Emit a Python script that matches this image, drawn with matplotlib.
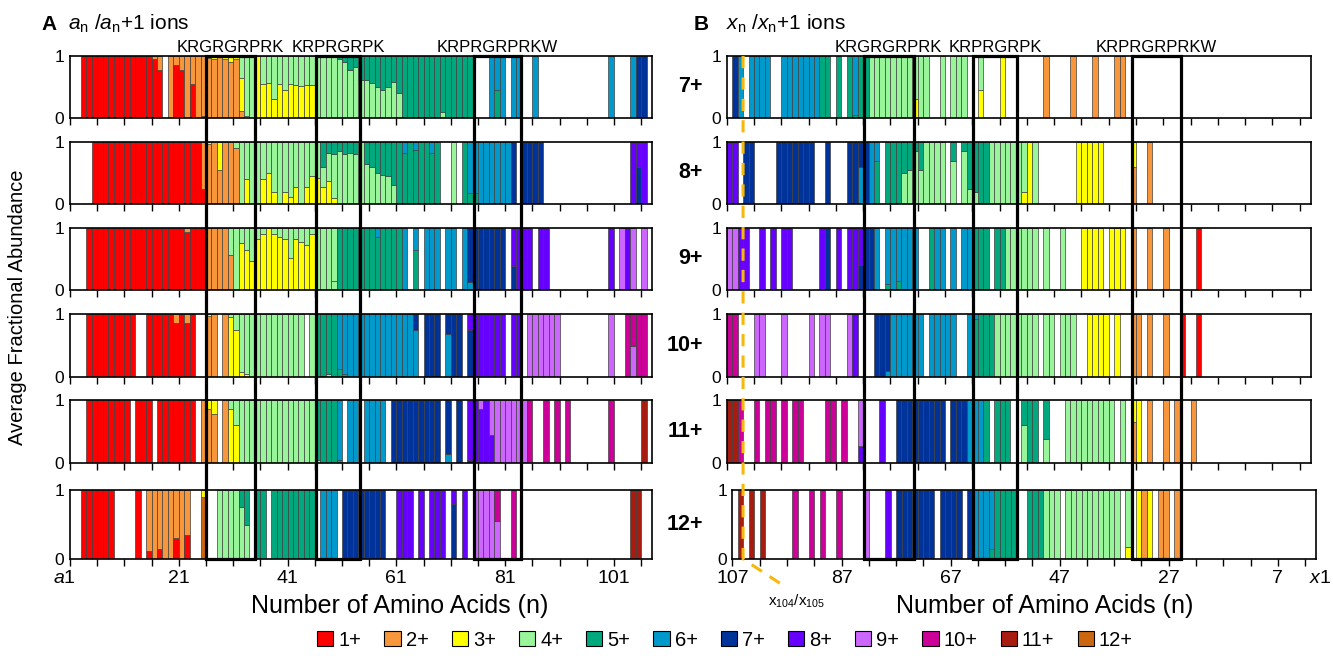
import matplotlib.pyplot as plt
from matplotlib.patches import Patch, Rectangle
from matplotlib.lines import Line2D

plt.rcParams['font.family'] = 'Liberation Sans'
plt.rcParams['mathtext.fontset'] = 'custom'
plt.rcParams['mathtext.rm'] = 'Liberation Sans'
plt.rcParams['mathtext.it'] = 'Liberation Sans:italic'
plt.rcParams['mathtext.bf'] = 'Liberation Sans:bold'

# charge states and their colours
charges = list(range(1, 13))
charge_colors = ['#FF0000', '#F7963B', '#FFFF00', '#99F599', '#00A87D', '#0099CC',
                 '#003399', '#6600FF', '#CC66FF', '#CC0099', '#A81C10', '#CC6611']
legend_labels = [f'{c}+' for c in charges]
precursors = ['7+', '8+', '9+', '10+', '11+', '12+']

# (first, last, top charge) runs; mix = {position: (lower charge, fraction)}
# panel A: a_n ions
runs_a7 = [(3, 15, 1), (16, 17, 2), (19, 25, 2), (26, 31, 3), (32, 34, 4), (35, 35, 3), (36, 49, 4),
           (50, 74, 5), (78, 80, 6), (82, 83, 6), (86, 86, 6), (100, 100, 6), (104, 104, 6), (105, 106, 7)]
mix_a7 = {16: (1, .95), 17: (1, .78), 20: (1, .85), 21: (1, .78), 23: (1, .55), 25: (1, .03),
          26: (2, .97), 27: (2, .95), 28: (2, 1), 29: (2, .95), 30: (2, .9), 31: (2, .95),
          32: [(2, .12), (3, .53)], 33: (3, .03), 36: (3, .55), 37: (3, .57), 38: (3, .3), 39: (3, .55),
          40: (3, .45), 41: (3, .55), 42: (3, .53), 43: (3, .52), 44: (3, .53), 45: (3, .53),
          50: (4, .95), 51: (4, .9), 52: (4, .78), 53: (4, .82), 54: (4, .62), 55: (4, .62), 56: (4, .57),
          57: (4, .5), 58: (4, .45), 59: (4, .5), 60: (4, .58), 61: (4, .4), 69: (4, .1), 79: (5, .45)}

runs_a8 = [(5, 24, 1), (25, 25, 2), (26, 26, 3), (27, 27, 2), (28, 28, 3), (29, 30, 2), (31, 46, 4),
           (47, 53, 5), (54, 54, 4), (55, 61, 5), (62, 62, 6), (63, 63, 5), (64, 64, 6), (65, 66, 5),
           (67, 67, 6), (68, 68, 5), (71, 71, 4), (73, 73, 5), (74, 81, 6), (82, 82, 7), (84, 87, 7),
           (104, 106, 8)]
mix_a8 = {25: (1, .25), 26: (2, .97), 28: (2, .55), 31: (2, .9), 33: (3, .4), 36: (3, .4), 37: (3, .5),
          38: (3, .2), 40: (3, .2), 41: (3, .12), 42: (3, .27), 44: (3, .27), 45: (3, .45), 46: (3, .42),
          47: [(3, .27), (4, .33)], 48: [(3, .37), (4, .45)], 49: [(3, .1), (4, .7)], 50: (4, .85),
          51: (4, .8), 52: (4, .82), 53: (4, .8), 55: (4, .65), 56: (4, .6), 57: (4, .5), 58: (4, .47),
          59: (4, .45), 60: (4, .3), 62: (5, .82), 64: (5, .87), 67: (5, .82), 74: (5, .18), 75: (5, .18),
          105: (7, .6)}

runs_a9 = [(4, 21, 1), (22, 22, 2), (23, 25, 1), (26, 29, 2), (30, 49, 4), (50, 56, 5), (57, 57, 6),
           (58, 61, 5), (62, 62, 6), (64, 64, 6), (66, 68, 6), (70, 71, 6), (73, 73, 6), (74, 80, 7),
           (82, 85, 8), (87, 88, 8), (100, 100, 8), (102, 102, 9), (103, 103, 8), (104, 104, 9),
           (106, 106, 9)]
mix_a9 = {22: (1, .93), 30: (2, .57), 32: (3, .75), 33: (3, .65), 34: (3, .47), 35: (3, .82), 36: (3, .9),
          37: (3, 1), 38: (3, .9), 39: (3, .85), 40: (3, .82), 41: (3, .52), 42: (3, .82), 43: (3, .77),
          44: (3, .72), 45: (3, .9), 49: (4, .15), 57: (5, .85), 64: (5, .65), 67: (5, .02), 74: (6, .13),
          82: (7, .38)}

runs_a10 = [(4, 12, 1), (15, 19, 1), (20, 20, 2), (21, 21, 1), (22, 22, 2), (23, 23, 1), (26, 26, 3),
            (27, 27, 2), (29, 29, 2), (30, 43, 4), (45, 45, 4), (46, 49, 5), (50, 63, 6), (64, 64, 7),
            (66, 68, 7), (70, 72, 7), (74, 80, 8), (82, 83, 8), (85, 90, 9), (100, 100, 9), (103, 106, 10)]
mix_a10 = {20: (1, .85), 22: (1, .85), 26: (2, .97), 30: (3, .95), 31: (3, .75), 32: (3, .08),
           33: (3, .05), 47: (4, .02), 48: (4, .05), 50: (5, .12), 51: (5, .05), 64: (6, .75),
           70: (6, .68), 74: (7, .75), 104: (9, .5)}

runs_a11 = [(4, 11, 1), (13, 15, 1), (17, 23, 1), (25, 25, 2), (26, 27, 3), (29, 29, 2), (30, 45, 4),
            (46, 49, 5), (50, 50, 6), (52, 53, 6), (55, 58, 6), (60, 68, 7), (70, 70, 7), (72, 72, 7),
            (74, 75, 8), (76, 76, 9), (77, 77, 8), (78, 84, 9), (85, 85, 10), (88, 88, 10), (90, 90, 10),
            (92, 92, 10), (100, 100, 10), (106, 106, 11)]
mix_a11 = {26: (2, .85), 27: (2, .78), 30: (3, .85), 31: (3, .6), 46: (4, .05), 50: (5, .05),
           70: (6, .15), 74: (7, .05), 76: (8, .85), 78: (8, .45)}

runs_a12 = [(3, 8, 1), (13, 13, 1), (15, 22, 2), (25, 25, 3), (28, 31, 4), (32, 33, 5), (35, 36, 5),
            (38, 45, 5), (47, 49, 6), (51, 58, 7), (61, 63, 8), (65, 65, 8), (67, 69, 8), (71, 71, 8),
            (73, 73, 8), (75, 78, 9), (79, 79, 10), (82, 82, 10), (104, 105, 11)]
mix_a12 = {15: (1, .12), 17: (1, .15), 20: (1, .3), 22: (1, .35), 25: (12, .9), 32: (4, .75),
           33: (4, .5), 71: (7, .8), 79: (9, .55)}

# panel B: x_n ions
runs_b7 = [(106, 106, 7), (105, 105, 6), (100, 103, 6), (91, 97, 6), (89, 90, 5), (87, 87, 5),
           (85, 85, 5), (84, 84, 6), (82, 83, 5), (71, 81, 4), (68, 68, 4), (64, 66, 4), (61, 61, 4),
           (57, 57, 3), (49, 49, 2), (44, 44, 2), (40, 40, 2), (35, 36, 2)]
mix_b7 = {84: (5, .05), 73: (3, .3), 61: (3, .45)}

runs_b8 = [(106, 107, 8), (103, 104, 7), (92, 98, 7), (89, 89, 7), (82, 85, 7), (80, 81, 6),
           (72, 78, 5), (68, 71, 4), (66, 66, 5), (60, 64, 5), (53, 59, 4), (52, 52, 3), (51, 51, 4),
           (39, 43, 3), (33, 33, 3), (30, 30, 2)]
mix_b8 = {83: (6, .6), 80: (5, .7), 75: (4, .5), 74: (4, .55), 73: (4, .85), 72: (4, .55), 66: (4, .7),
          64: (4, .85), 63: (4, .25), 62: (4, .2), 53: (3, .2), 33: (2, .6)}

runs_b9 = [(106, 107, 9), (104, 105, 8), (101, 101, 8), (99, 99, 8), (96, 97, 8), (90, 90, 8),
           (89, 89, 7), (87, 87, 8), (83, 85, 8), (81, 82, 7), (80, 80, 6), (73, 78, 6), (70, 70, 5),
           (68, 69, 6), (66, 66, 6), (63, 64, 6), (60, 62, 5), (57, 58, 5), (51, 56, 4), (49, 49, 4),
           (46, 46, 4), (39, 42, 3), (37, 37, 3), (35, 36, 3), (33, 33, 2), (30, 30, 2), (27, 27, 2),
           (21, 21, 1)]
mix_b9 = {83: (7, .4), 78: (5, .1), 76: (5, .15)}

runs_b10 = [(106, 107, 10), (101, 102, 9), (97, 97, 9), (92, 92, 9), (89, 90, 9), (85, 85, 9),
            (84, 84, 8), (78, 80, 7), (72, 77, 6), (68, 70, 6), (66, 67, 6), (63, 63, 6), (62, 62, 6),
            (59, 61, 5), (51, 58, 4), (48, 49, 4), (44, 46, 4), (38, 41, 3), (36, 36, 3), (32, 33, 2),
            (30, 30, 2), (27, 27, 2), (24, 24, 1), (21, 21, 1)]
mix_b10 = {78: (6, .1), 62: (5, .92)}

runs_b11 = [(106, 107, 11), (105, 105, 10), (102, 102, 10), (99, 100, 10), (97, 97, 10), (94, 95, 10),
            (88, 89, 10), (86, 86, 10), (83, 83, 9), (79, 79, 8), (68, 76, 7), (64, 66, 7), (61, 63, 6),
            (60, 60, 5), (56, 58, 5), (51, 53, 5), (49, 49, 5), (37, 45, 4), (35, 35, 4), (32, 33, 3),
            (30, 30, 2), (27, 27, 2), (25, 25, 2), (22, 22, 2)]
mix_b11 = {83: (8, .27), 53: (4, .6), 49: (4, .38), 33: (2, .65)}

runs_b12 = [(106, 106, 11), (104, 104, 11), (102, 102, 11), (96, 96, 10), (93, 93, 10), (91, 91, 10),
            (88, 88, 10), (83, 83, 9), (79, 79, 8), (71, 77, 7), (66, 69, 7), (64, 64, 7), (60, 63, 6),
            (56, 59, 5), (51, 53, 5), (48, 50, 4), (37, 46, 4), (35, 35, 4), (33, 33, 3), (32, 32, 2),
            (31, 31, 3), (29, 29, 2), (28, 28, 2), (26, 26, 2)]
mix_b12 = {60: (5, .15), 35: (3, .18)}

rows_a = [(runs_a7, mix_a7), (runs_a8, mix_a8), (runs_a9, mix_a9),
          (runs_a10, mix_a10), (runs_a11, mix_a11), (runs_a12, mix_a12)]
rows_b = [(runs_b7, mix_b7), (runs_b8, mix_b8), (runs_b9, mix_b9),
          (runs_b10, mix_b10), (runs_b11, mix_b11), (runs_b12, mix_b12)]

# sequence boxes (data x ranges) and their labels
boxes_a = [(26.0, 35.1), (46.2, 54.4), (75.2, 84.0)]
boxes_b = [(81.9, 72.7), (61.9, 53.8), (32.7, 23.8)]
box_seqs = ['KRGRGRPRK', 'KRPRGRPK', 'KRPRGRPRKW']

W, H = 1333, 659
fig = plt.figure(figsize=(W / 100, H / 100), dpi=100)
fig.patch.set_facecolor('white')


def px_rect(x0, x1, y0, y1):
    return [x0 / W, 1 - y1 / H, (x1 - x0) / W, (y1 - y0) / H]


def build_bars(runs, mix, panel):
    xs, bots, hts, cols = [], [], [], []
    for lo, hi, c in runs:
        for n in range(lo, hi + 1):
            parts = mix.get(n, [])
            if isinstance(parts, tuple):
                parts = [parts]
            used = sum(f for _, f in parts)
            parts = list(parts) + [(c, 1 - used)]
            x = n if panel == 'A' else n - 1
            b = 0
            for cc, f in parts:
                if f > 0.001:
                    xs.append(x)
                    bots.append(b)
                    hts.append(f)
                    cols.append(charge_colors[cc - 1])
                b += f
    return xs, bots, hts, cols


row_y = [(56, 118), (142, 204), (228, 290), (314, 377), (400, 463), (490, 559)]
xa = [(70, 652)] * 6
xb = [(726.7, 1310.6)] * 5 + [(732.5, 1316.0)]

axes_a, axes_b = [], []
for i in range(6):
    for panel, xr, rows, store in (('A', xa, rows_a, axes_a), ('B', xb, rows_b, axes_b)):
        ax = fig.add_axes(px_rect(xr[i][0], xr[i][1], row_y[i][0], row_y[i][1]))
        xs, bots, hts, cols = build_bars(rows[i][0], rows[i][1], panel)
        ax.bar(xs, hts, bottom=bots, width=1, align='edge', color=cols,
               edgecolor='#404040', linewidth=0.5)
        ax.set_ylim(0, 1)
        ax.set_yticks([0, 1])
        ax.set_yticklabels(['0', '1'], fontsize=12.5)
        ax.tick_params(axis='y', length=0, pad=4)
        if panel == 'A':
            ax.set_xlim(1, 108)
            ticks = list(range(1, 107, 5))
            labels = {21: '21', 41: '41', 61: '61', 81: '81', 101: '101'}
        else:
            ax.set_xlim(107, 0)
            ticks = list(range(107, 0, -5))
            labels = {107: '107', 87: '87', 67: '67', 47: '47', 27: '27', 7: '7'}
        ax.set_xticks(ticks)
        if i == 5:
            ax.set_xticklabels([labels.get(t, '') for t in ticks], fontsize=14)
        else:
            ax.set_xticklabels([])
        ax.tick_params(axis='x', direction='out', length=5, width=1, pad=3)
        for s in ax.spines.values():
            s.set_linewidth(1.2)
            s.set_color('black')
        store.append(ax)

# end labels with italic ion letters
axes_a[5].annotate('$\\mathit{a}$1', xy=(1, 0), xycoords=('data', 'axes fraction'), xytext=(4, -8),
                   textcoords='offset points', ha='right', va='top', fontsize=14)
axes_b[5].annotate('$\\mathit{x}$1', xy=(1, 0), xycoords=(fig.transFigure, 'axes fraction'),
                   xytext=(-1, -8), textcoords='offset points', ha='right', va='top', fontsize=14)

# precursor charge labels
for i, lab in enumerate(precursors):
    fig.text(703 / W, 1 - (row_y[i][0] + row_y[i][1]) / 2 / H, lab, ha='right', va='center',
             fontsize=15.5, fontweight='bold')

# boxes over the repeated sequences, spanning all rows
inv = fig.transFigure.inverted()
top_y = 1 - row_y[0][0] / H
bot_y = 1 - row_y[5][1] / H
for axes, boxes in ((axes_a, boxes_a), (axes_b, boxes_b)):
    ax0 = axes[0]
    for (x0, x1), seq in zip(boxes, box_seqs):
        fx0 = inv.transform(ax0.transData.transform((x0, 0)))[0]
        fx1 = inv.transform(ax0.transData.transform((x1, 0)))[0]
        fig.add_artist(Rectangle((fx0, bot_y), fx1 - fx0, top_y - bot_y, transform=fig.transFigure,
                                 fill=False, edgecolor='black', linewidth=2.3, zorder=20))
        fig.text((fx0 + fx1) / 2, 1 - 47 / H, seq, ha='center', va='center', fontsize=12)

# dashed marker between x104 and x105
fx = inv.transform(axes_b[0].transData.transform((104, 0)))[0]
fig.add_artist(Line2D([fx, fx, 784 / W], [top_y, bot_y, 1 - 586 / H], transform=fig.transFigure,
                      color='#F7B80C', linestyle=(0, (4, 3)), linewidth=2.2, zorder=25))
fig.text(797 / W, 1 - 601 / H, 'x$_{104}$/x$_{105}$', ha='center', va='center', fontsize=11)

# panel titles
fig.text(41 / W, 1 - 24 / H, 'A', fontsize=15, fontweight='bold', va='center')
fig.text(68 / W, 1 - 24 / H, '$a_\\mathrm{n}$ /$a_\\mathrm{n}$+$\\mathit{1}$ ions', fontsize=15, va='center')
fig.text(694 / W, 1 - 24 / H, 'B', fontsize=15, fontweight='bold', va='center')
fig.text(726 / W, 1 - 24 / H, '$x_\\mathrm{n}$ /$x_\\mathrm{n}$+$\\mathit{1}$ ions', fontsize=15, va='center')

fig.text(400 / W, 1 - 606 / H, 'Number of Amino Acids (n)', ha='center', va='center', fontsize=18)
fig.text(1045 / W, 1 - 606 / H, 'Number of Amino Acids (n)', ha='center', va='center', fontsize=18)
fig.text(18 / W, 1 - 307 / H, 'Average Fractional Abundance', rotation=90, ha='center', va='center',
         fontsize=14.5)

handles = [Patch(facecolor=c, edgecolor='black', linewidth=0.8) for c in charge_colors]
fig.legend(handles, legend_labels, loc='center', bbox_to_anchor=(725 / W, 1 - 640 / H), ncol=12,
           frameon=False, fontsize=14.5, handlelength=0.8, handleheight=0.8, handletextpad=0.25,
           columnspacing=1.15, borderaxespad=0)

fig.savefig('out.png', dpi=100)
